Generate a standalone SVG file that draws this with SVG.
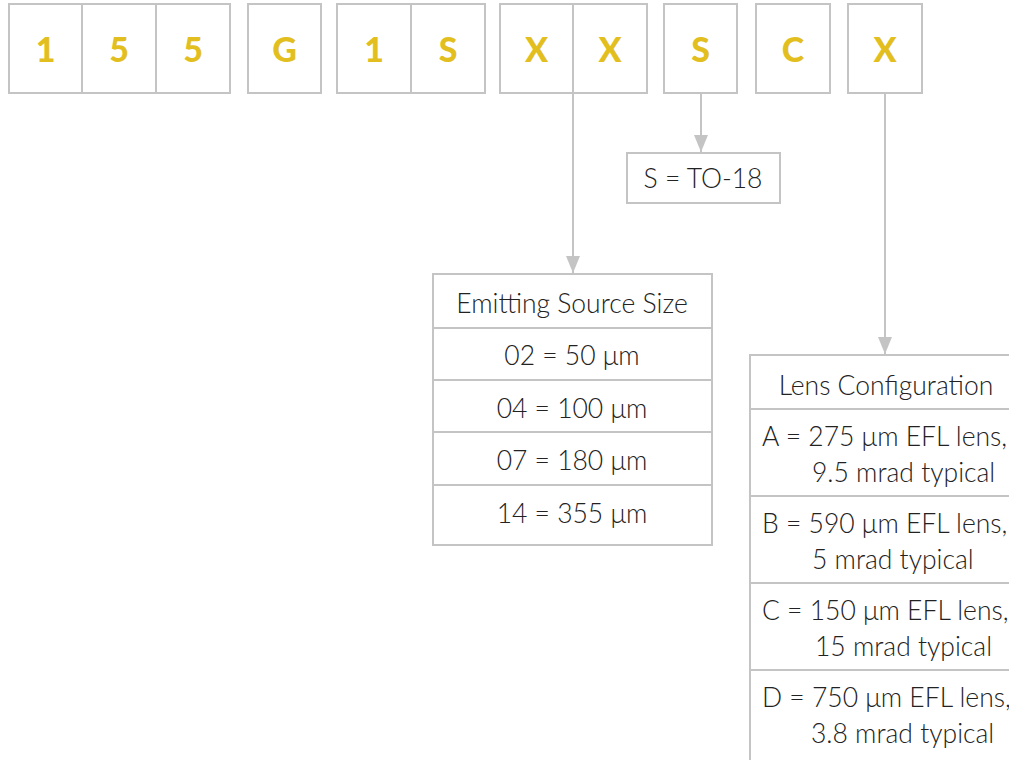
<svg xmlns="http://www.w3.org/2000/svg" width="1009" height="760" viewBox="0 0 1009 760">
  <style>
    .cell { fill: #ffffff; stroke: #c4c4c4; stroke-width: 2; }
    .code { font-family: Lato, "Open Sans", sans-serif; font-weight: 900; font-size: 34px; fill: #e2bf1f; text-anchor: middle; }
    .label { font-family: Lato, "Open Sans", sans-serif; font-weight: 300; font-size: 26.5px; fill: #222222; }
    .mid { text-anchor: middle; }
    .sep { stroke: #c4c4c4; stroke-width: 2; }
    .wire { stroke: #c4c4c4; stroke-width: 2; fill: none; marker-end: url(#arrow); }
  </style>
  <defs>
    <!-- filled grey arrowhead, tip at the end of the line -->
    <marker id="arrow" markerUnits="userSpaceOnUse" markerWidth="18" markerHeight="14" refX="17" refY="7" orient="auto" viewBox="0 0 18 14">
      <path d="M0,0 L17,7 L0,14 Z" fill="#c4c4c4"/>
    </marker>
  </defs>

  <rect width="1009" height="760" fill="#ffffff"/>

  <!-- connectors -->
  <g id="connectors">
    <line class="wire" x1="573" y1="93" x2="573" y2="273"/>
    <line class="wire" x1="701" y1="93" x2="701" y2="152"/>
    <line class="wire" x1="885" y1="93" x2="885" y2="354"/>
  </g>

  <!-- part number cells -->
  <g id="code-155">
    <rect class="cell" x="9" y="4" width="73" height="89"/>
    <rect class="cell" x="82" y="4" width="74" height="89"/>
    <rect class="cell" x="156" y="4" width="74" height="89"/>
    <text class="code" x="45.5" y="62">1</text>
    <text class="code" x="119" y="62">5</text>
    <text class="code" x="193" y="62">5</text>
  </g>
  <g id="code-G">
    <rect class="cell" x="248" y="4" width="73" height="89"/>
    <text class="code" x="284.5" y="62">G</text>
  </g>
  <g id="code-1S">
    <rect class="cell" x="337" y="4" width="74" height="89"/>
    <rect class="cell" x="411" y="4" width="74" height="89"/>
    <text class="code" x="374" y="62">1</text>
    <text class="code" x="448" y="62">S</text>
  </g>
  <g id="code-XX">
    <rect class="cell" x="500" y="4" width="73" height="89"/>
    <rect class="cell" x="573" y="4" width="74" height="89"/>
    <text class="code" x="536.5" y="62">X</text>
    <text class="code" x="610" y="62">X</text>
  </g>
  <g id="code-S">
    <rect class="cell" x="664" y="4" width="73" height="89"/>
    <text class="code" x="700.5" y="62">S</text>
  </g>
  <g id="code-C">
    <rect class="cell" x="756" y="4" width="74" height="89"/>
    <text class="code" x="793" y="62">C</text>
  </g>
  <g id="code-X">
    <rect class="cell" x="848" y="4" width="74" height="89"/>
    <text class="code" x="885" y="62">X</text>
  </g>

  <!-- package -->
  <g id="package">
    <rect class="cell" x="627" y="153" width="153" height="50"/>
    <text class="label mid" x="703" y="188">S = TO-18</text>
  </g>

  <!-- emitting source size table -->
  <g id="source-size">
    <rect class="cell" x="433" y="274" width="279" height="271"/>
    <line class="sep" x1="433" y1="328" x2="712" y2="328"/>
    <line class="sep" x1="433" y1="380" x2="712" y2="380"/>
    <line class="sep" x1="433" y1="432" x2="712" y2="432"/>
    <line class="sep" x1="433" y1="485" x2="712" y2="485"/>
    <text class="label mid" x="572" y="313">Emitting Source Size</text>
    <text class="label mid" x="572" y="365">02 = 50 μm</text>
    <text class="label mid" x="572" y="418">04 = 100 μm</text>
    <text class="label mid" x="572" y="470">07 = 180 μm</text>
    <text class="label mid" x="572" y="523">14 = 355 μm</text>
  </g>

  <!-- lens configuration table -->
  <g id="lens-config">
    <rect class="cell" x="750" y="355" width="280" height="430"/>
    <line class="sep" x1="750" y1="409" x2="1030" y2="409"/>
    <line class="sep" x1="750" y1="496" x2="1030" y2="496"/>
    <line class="sep" x1="750" y1="583" x2="1030" y2="583"/>
    <line class="sep" x1="750" y1="670" x2="1030" y2="670"/>
    <text class="label mid" x="886" y="395">Lens Configuration</text>
    <text class="label" x="762" y="446">A = 275 μm EFL lens,</text>
    <text class="label" x="812" y="482">9.5 mrad typical</text>
    <text class="label" x="762" y="533">B = 590 μm EFL lens,</text>
    <text class="label" x="812" y="569">5 mrad typical</text>
    <text class="label" x="762" y="620">C = 150 μm EFL lens,</text>
    <text class="label" x="815" y="656">15 mrad typical</text>
    <text class="label" x="762" y="707">D = 750 μm EFL lens,</text>
    <text class="label" x="811" y="743">3.8 mrad typical</text>
  </g>
</svg>
